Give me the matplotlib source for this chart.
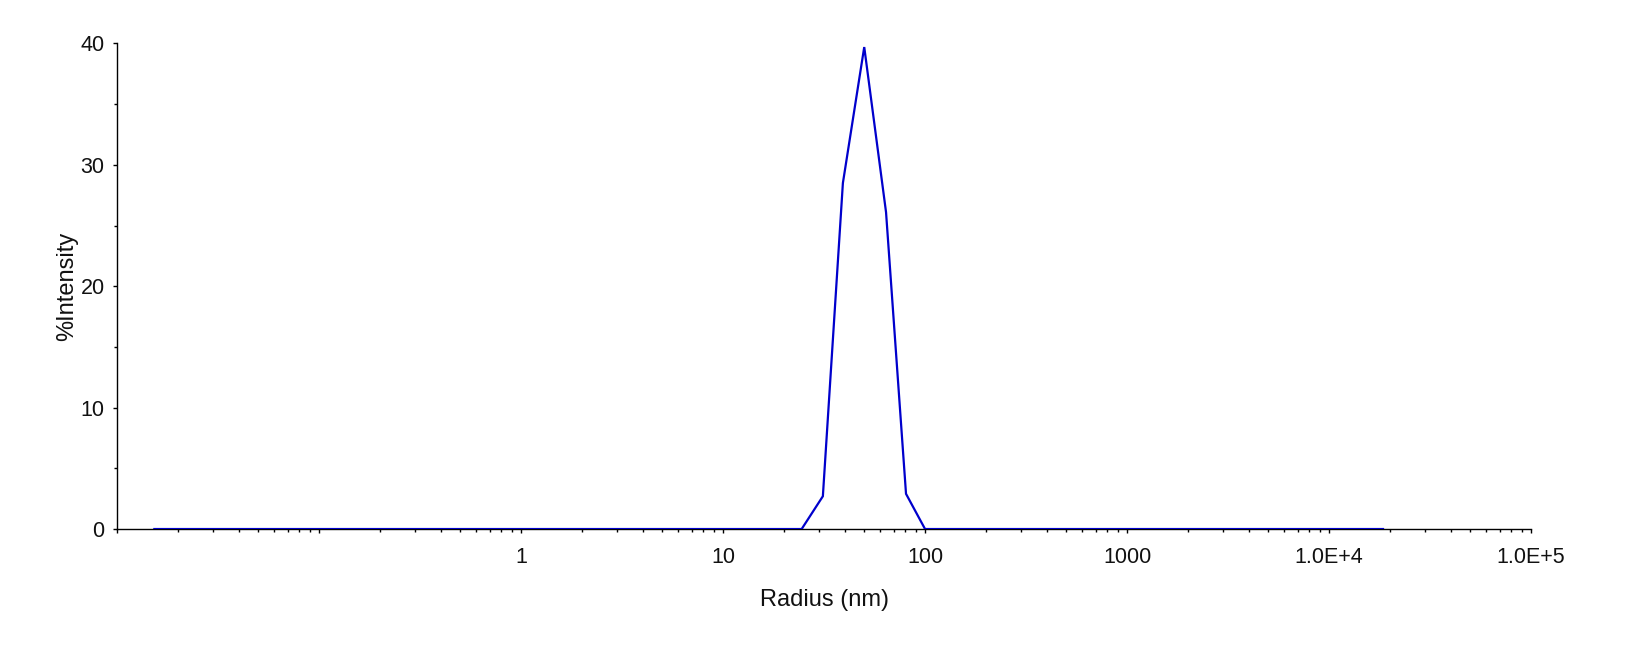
import matplotlib.pyplot as plt
from matplotlib.ticker import FixedLocator, FixedFormatter, LogLocator, MultipleLocator, NullFormatter

plt.rcParams['font.family'] = ['Liberation Sans', 'DejaVu Sans']

# size distribution
radius = [0.0153, 24.5, 31.2, 39.2, 50.0, 64.1, 80.5, 100, 18500]
intensity = [0, 0, 2.7, 28.5, 39.7, 26.1, 2.9, 0, 0]

tick_vals = [0.01, 0.1, 1, 10, 100, 1000, 1e4, 1e5]
tick_labels = ['', '', '1', '10', '100', '1000', '1.0E+4', '1.0E+5']

fig = plt.figure(figsize=(16.3, 6.48), dpi=100)
ax = fig.add_axes([0.0718, 0.1836, 0.8675, 0.7494])

ax.plot(radius, intensity, color='#0000cc', lw=1.6, solid_joinstyle='miter', zorder=3)

ax.set_xscale('log')
ax.set_xlim(0.01, 1e5)
ax.set_ylim(0, 40)

ax.xaxis.set_major_locator(FixedLocator(tick_vals))
ax.xaxis.set_major_formatter(FixedFormatter(tick_labels))
ax.xaxis.set_minor_locator(LogLocator(base=10, subs=range(2, 10)))
ax.xaxis.set_minor_formatter(NullFormatter())
ax.yaxis.set_major_locator(MultipleLocator(10))
ax.yaxis.set_minor_locator(MultipleLocator(5))

for s in ['top', 'right']:
    ax.spines[s].set_visible(False)
for s in ['left', 'bottom']:
    ax.spines[s].set_linewidth(1.0)

ax.tick_params(axis='both', which='major', direction='out', length=3, width=1, labelsize=15.5)
ax.tick_params(axis='both', which='minor', direction='out', length=2.2, width=1)
ax.tick_params(axis='x', which='major', pad=10)
ax.tick_params(axis='y', which='major', pad=6)

for lab in ax.get_xticklabels() + ax.get_yticklabels():
    lab.set_color('#111111')

ax.set_xlabel('Radius (nm)', fontsize=17, labelpad=15, color='#111111')
ax.set_ylabel('%Intensity', fontsize=17, labelpad=2, color='#111111')

fig.savefig('out.png', dpi=100)
